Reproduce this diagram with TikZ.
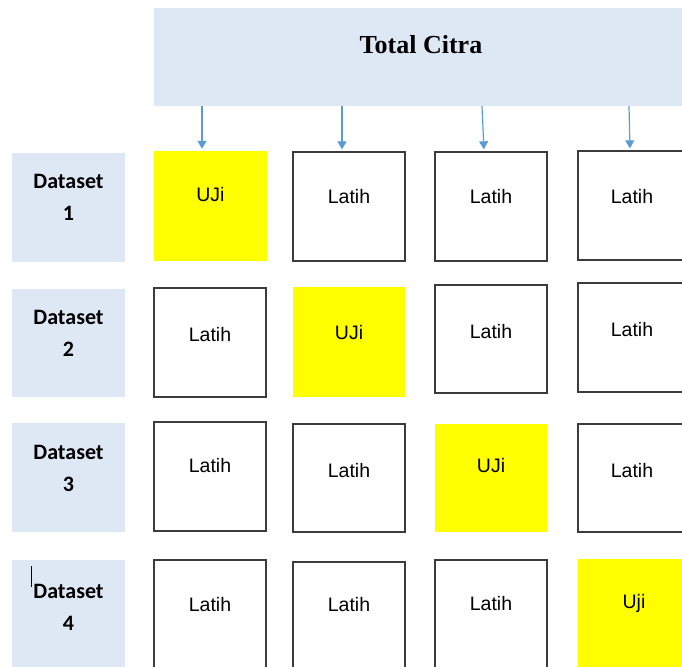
\documentclass[tikz,border=0pt]{standalone}
\usepackage{fontspec}
\setmainfont{Liberation Sans}
\newfontfamily\titlefont{Liberation Serif}
\newfontfamily\labfont{Carlito}
\usetikzlibrary{arrows.meta,fit}
\definecolor{paleblue}{HTML}{DEE8F5}
\definecolor{arrowblue}{HTML}{5B9BD5}
\definecolor{boxline}{HTML}{3C3C3C}
\definecolor{ujiyellow}{HTML}{FFFF00}
\tikzset{
  cellbox/.style={inner sep=0pt, draw=boxline, line width=1.3pt},
  testbox/.style={inner sep=0pt, fill=ujiyellow},
  setbox/.style={inner sep=0pt, fill=paleblue},
  celltext/.style={font=\fontsize{19.5}{22}\selectfont, inner sep=0pt},
  settext/.style={font=\labfont\bfseries\fontsize{22}{32}\selectfont, inner sep=0pt, align=center},
  titletext/.style={font=\titlefont\bfseries\fontsize{26}{28}\selectfont, inner sep=0pt},
  feed/.style={draw=arrowblue, line width=1.2pt, shorten >=2pt, -{Triangle[length=8pt,width=9pt]}}
}
\begin{document}
\begin{tikzpicture}[x=1pt,y=-1pt]
\useasboundingbox (0,0) rectangle (682,666);
\clip (0,0) rectangle (682,666);
% title
\node[setbox, fit={(154,8) (690,106)}] (title) {};
\node[titletext] (titlet) at (421,45) {Total Citra};
% dataset labels
\node[setbox, fit={(12,153) (125,262)}] (d1) {};
\node[settext] (d1t) at (d1.center |- 0,197.5) {Dataset\\1};
\node[setbox, fit={(12,289) (125,397)}] (d2) {};
\node[settext] (d2t) at (d2.center |- 0,333.5) {Dataset\\2};
\node[setbox, fit={(12,423) (125,532)}] (d3) {};
\node[settext] (d3t) at (d3.center |- 0,468.5) {Dataset\\3};
\node[setbox, fit={(12,560) (125,690)}] (d4) {};
\node[settext] (d4t) at (d4.center |- 0,607) {Dataset\\4};
\draw[line width=0.8pt] (31,566) -- (31,587);
% row 1
\node[testbox, fit={(154,151) (267,261)}] (c11) {};
\node[celltext] (t11) at (c11.center |- 0,195) {UJi};
\node[cellbox, fit={(293,152) (405,261)}] (c12) {};
\node[celltext] (t12) at (c12.center |- 0,197) {Latih};
\node[cellbox, fit={(435,152) (547,261)}] (c13) {};
\node[celltext] (t13) at (c13.center |- 0,197) {Latih};
\node[cellbox, fit={(578,151) (688,260)}] (c14) {};
\node[celltext] (t14) at (632,197) {Latih};
% row 2
\node[cellbox, fit={(154,288) (266,397)}] (c21) {};
\node[celltext] (t21) at (c21.center |- 0,335) {Latih};
\node[testbox, fit={(293,287) (405,397)}] (c22) {};
\node[celltext] (t22) at (c22.center |- 0,333) {UJi};
\node[cellbox, fit={(435,285) (547,393)}] (c23) {};
\node[celltext] (t23) at (c23.center |- 0,332) {Latih};
\node[cellbox, fit={(578,283) (688,392)}] (c24) {};
\node[celltext] (t24) at (632,330) {Latih};
% row 3
\node[cellbox, fit={(154,422) (266,531)}] (c31) {};
\node[celltext] (t31) at (c31.center |- 0,466) {Latih};
\node[cellbox, fit={(293,424) (405,532)}] (c32) {};
\node[celltext] (t32) at (c32.center |- 0,471) {Latih};
\node[testbox, fit={(435,424) (547,532)}] (c33) {};
\node[celltext] (t33) at (c33.center |- 0,466) {UJi};
\node[cellbox, fit={(578,424) (688,532)}] (c34) {};
\node[celltext] (t34) at (632,471) {Latih};
% row 4
\node[cellbox, fit={(154,560) (266,690)}] (c41) {};
\node[celltext] (t41) at (c41.center |- 0,605) {Latih};
\node[cellbox, fit={(293,562) (405,690)}] (c42) {};
\node[celltext] (t42) at (c42.center |- 0,605) {Latih};
\node[cellbox, fit={(435,560) (547,690)}] (c43) {};
\node[celltext] (t43) at (c43.center |- 0,604) {Latih};
\node[testbox, fit={(578,559) (690,690)}] (c44) {};
\node[celltext] (t44) at (634,603) {Uji};
% arrows
\draw[feed] (title.south -| 202,0) -- (c11.north -| 202,0);
\draw[feed] (title.south -| 342,0) -- (c12.north -| 342,0);
\draw[feed] (title.south -| 482,0) -- (c13.north -| 484,0);
\draw[feed] (title.south -| 629,0) -- (c14.north -| 630,0);
\end{tikzpicture}
\end{document}
